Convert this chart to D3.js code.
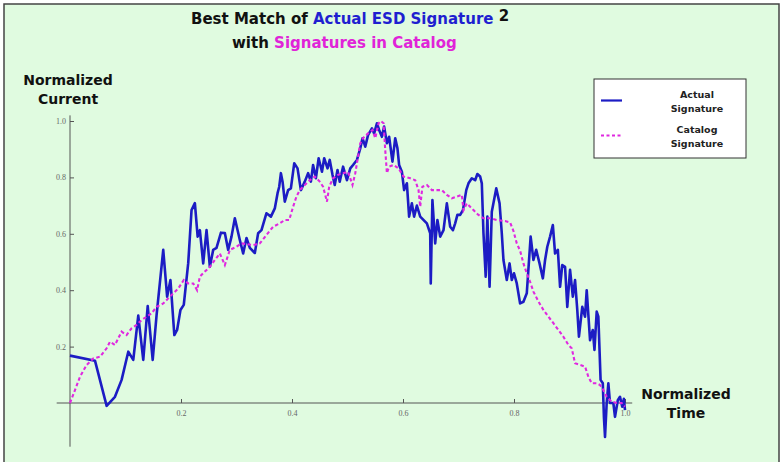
<!DOCTYPE html>
<html>
<head>
<meta charset="utf-8">
<script src="https://cdn.jsdelivr.net/npm/d3@7"></script>
<style>
  html, body { margin: 0; padding: 0; background: #fff; }
  svg { display: block; }
</style>
</head>
<body>
<div id="chart"></div>
<script>
// values (normalized time, normalized current)
const actualT = [0, 0.045, 0.066, 0.081, 0.093, 0.105, 0.114, 0.123, 0.132, 0.140, 0.149, 0.156, 0.168, 0.175, 0.181, 0.188, 0.193, 0.199, 0.205, 0.213, 0.219, 0.225, 0.230, 0.234, 0.240, 0.246, 0.252, 0.258, 0.264, 0.272, 0.279, 0.285, 0.291, 0.297, 0.306, 0.312, 0.318, 0.324, 0.333, 0.339, 0.345, 0.354, 0.362, 0.369, 0.374, 0.377, 0.380, 0.383, 0.387, 0.393, 0.398, 0.404, 0.410, 0.416, 0.423, 0.429, 0.434, 0.438, 0.443, 0.448, 0.454, 0.458, 0.464, 0.468, 0.473, 0.477, 0.482, 0.486, 0.492, 0.499, 0.505, 0.510, 0.517, 0.523, 0.527, 0.532, 0.537, 0.544, 0.548, 0.553, 0.557, 0.562, 0.566, 0.571, 0.575, 0.581, 0.586, 0.590, 0.593, 0.598, 0.602, 0.607, 0.611, 0.616, 0.620, 0.625, 0.631, 0.643, 0.649, 0.650, 0.653, 0.658, 0.662, 0.667, 0.673, 0.679, 0.685, 0.690, 0.694, 0.698, 0.703, 0.708, 0.714, 0.718, 0.724, 0.730, 0.734, 0.739, 0.742, 0.745, 0.749, 0.752, 0.756, 0.760, 0.768, 0.774, 0.778, 0.781, 0.787, 0.792, 0.796, 0.800, 0.805, 0.811, 0.817, 0.823, 0.830, 0.835, 0.840, 0.846, 0.852, 0.856, 0.860, 0.865, 0.870, 0.874, 0.879, 0.883, 0.887, 0.892, 0.896, 0.901, 0.906, 0.910, 0.914, 0.917, 0.923, 0.928, 0.931, 0.937, 0.942, 0.945, 0.949, 0.952, 0.956, 0.960, 0.962, 0.964, 0.967, 0.970, 0.973, 0.979, 0.982, 0.987, 0.991, 0.995, 0.998, 1.000];
const actualV = [0.168, 0.150, -0.010, 0.022, 0.082, 0.182, 0.153, 0.310, 0.153, 0.344, 0.153, 0.312, 0.543, 0.377, 0.436, 0.241, 0.259, 0.330, 0.348, 0.496, 0.684, 0.709, 0.590, 0.613, 0.495, 0.613, 0.483, 0.543, 0.550, 0.604, 0.603, 0.543, 0.590, 0.655, 0.578, 0.530, 0.585, 0.550, 0.532, 0.602, 0.613, 0.673, 0.661, 0.690, 0.744, 0.767, 0.815, 0.785, 0.714, 0.755, 0.761, 0.850, 0.832, 0.755, 0.785, 0.815, 0.785, 0.844, 0.797, 0.868, 0.820, 0.868, 0.832, 0.862, 0.809, 0.773, 0.826, 0.785, 0.838, 0.790, 0.832, 0.844, 0.862, 0.903, 0.939, 0.909, 0.950, 0.974, 0.956, 0.992, 0.968, 0.944, 0.980, 0.921, 0.944, 0.856, 0.939, 0.903, 0.844, 0.820, 0.755, 0.779, 0.661, 0.708, 0.661, 0.700, 0.661, 0.637, 0.602, 0.424, 0.720, 0.566, 0.649, 0.590, 0.613, 0.708, 0.625, 0.613, 0.637, 0.667, 0.667, 0.684, 0.755, 0.779, 0.797, 0.790, 0.812, 0.803, 0.779, 0.602, 0.448, 0.661, 0.412, 0.678, 0.761, 0.708, 0.602, 0.507, 0.436, 0.495, 0.436, 0.460, 0.424, 0.353, 0.359, 0.389, 0.590, 0.507, 0.543, 0.495, 0.442, 0.507, 0.554, 0.590, 0.631, 0.530, 0.543, 0.412, 0.489, 0.483, 0.341, 0.472, 0.377, 0.436, 0.330, 0.235, 0.341, 0.306, 0.400, 0.223, 0.259, 0.188, 0.324, 0.306, 0.082, 0.070, -0.049, -0.120, 0.000, 0.070, 0.000, 0.000, -0.049, 0.010, 0.022, -0.013, 0.015, -0.025];

const catalogT = [0, 0.009, 0.018, 0.030, 0.042, 0.054, 0.066, 0.072, 0.081, 0.093, 0.102, 0.111, 0.120, 0.129, 0.138, 0.147, 0.156, 0.168, 0.177, 0.186, 0.195, 0.205, 0.213, 0.222, 0.229, 0.234, 0.243, 0.252, 0.261, 0.270, 0.279, 0.288, 0.300, 0.309, 0.330, 0.342, 0.354, 0.366, 0.378, 0.387, 0.395, 0.402, 0.408, 0.414, 0.423, 0.432, 0.441, 0.450, 0.456, 0.463, 0.467, 0.474, 0.483, 0.492, 0.501, 0.509, 0.514, 0.518, 0.523, 0.528, 0.537, 0.545, 0.550, 0.556, 0.560, 0.565, 0.568, 0.571, 0.575, 0.583, 0.592, 0.601, 0.613, 0.622, 0.628, 0.631, 0.635, 0.643, 0.652, 0.670, 0.679, 0.688, 0.706, 0.709, 0.715, 0.727, 0.736, 0.745, 0.757, 0.769, 0.784, 0.793, 0.799, 0.805, 0.811, 0.817, 0.823, 0.829, 0.835, 0.844, 0.853, 0.862, 0.871, 0.880, 0.889, 0.898, 0.904, 0.910, 0.919, 0.928, 0.934, 0.940, 0.949, 0.955, 0.961, 0.967, 0.976, 0.985, 0.994, 1.000];
const catalogV = [0, 0.046, 0.093, 0.135, 0.158, 0.164, 0.194, 0.217, 0.206, 0.253, 0.241, 0.265, 0.277, 0.294, 0.306, 0.318, 0.341, 0.353, 0.371, 0.389, 0.406, 0.436, 0.424, 0.424, 0.400, 0.448, 0.466, 0.483, 0.507, 0.530, 0.489, 0.543, 0.554, 0.566, 0.560, 0.566, 0.596, 0.625, 0.637, 0.649, 0.649, 0.696, 0.732, 0.755, 0.773, 0.790, 0.803, 0.785, 0.767, 0.714, 0.767, 0.797, 0.809, 0.815, 0.820, 0.773, 0.815, 0.862, 0.921, 0.939, 0.956, 0.968, 0.939, 0.992, 1.000, 0.992, 0.897, 0.815, 0.838, 0.844, 0.832, 0.803, 0.797, 0.790, 0.755, 0.696, 0.767, 0.773, 0.755, 0.755, 0.738, 0.726, 0.738, 0.684, 0.708, 0.684, 0.667, 0.655, 0.655, 0.649, 0.645, 0.640, 0.610, 0.566, 0.540, 0.495, 0.460, 0.430, 0.395, 0.360, 0.330, 0.306, 0.283, 0.259, 0.235, 0.206, 0.194, 0.141, 0.135, 0.129, 0.093, 0.070, 0.070, 0.064, 0.046, 0.022, 0.005, 0, 0, -0.013];

const xMajor = [0.2, 0.4, 0.6, 0.8, 1.0];
const yMajor = [0.2, 0.4, 0.6, 0.8, 1.0];
const xMinor = d3.range(1, 21).map(i => i * 0.05);
const yMinor = [-0.15, -0.1, -0.05].concat(d3.range(1, 21).map(i => i * 0.05));

const W = 782, H = 462;
const blue = "#1c1cc4";
const magenta = "#e028e0";

const svg = d3.select("#chart").append("svg")
  .attr("width", W).attr("height", H);

svg.append("rect")
  .attr("x", 4).attr("y", 4).attr("width", 775).attr("height", 470)
  .attr("fill", "#e0fbe0").attr("stroke", "#444").attr("stroke-width", 1.5);

const x = d3.scaleLinear().domain([0, 1]).range([70, 625]);
const y = d3.scaleLinear().domain([0, 1]).range([403, 121]);

// axes lines
svg.append("line")
  .attr("x1", x(-0.024)).attr("x2", x(1.013))
  .attr("y1", y(0)).attr("y2", y(0))
  .attr("stroke", "#555").attr("stroke-width", 1);
svg.append("line")
  .attr("x1", x(0)).attr("x2", x(0))
  .attr("y1", y(1.02)).attr("y2", y(-0.155))
  .attr("stroke", "#555").attr("stroke-width", 1);

const tickFont = "'Liberation Serif', 'DejaVu Serif', serif";

// x ticks
const gx = svg.append("g").attr("transform", `translate(0,${y(0)})`);
gx.call(d3.axisBottom(x).tickValues(xMinor).tickSize(-2.5).tickFormat(""));
gx.call(d3.axisBottom(x).tickValues(xMajor).tickSize(-4).tickPadding(7).tickFormat(d3.format(".1f")));
gx.select(".domain").remove();
gx.selectAll(".tick line").attr("stroke", "#555");
gx.selectAll(".tick text").attr("fill", "#666").attr("font-size", 8).attr("font-family", tickFont);

// y ticks
const gy = svg.append("g").attr("transform", `translate(${x(0)},0)`);
gy.call(d3.axisLeft(y).tickValues(yMinor).tickSize(-2.5).tickFormat(""));
gy.call(d3.axisLeft(y).tickValues(yMajor).tickSize(-4).tickPadding(4).tickFormat(d3.format(".1f")));
gy.select(".domain").remove();
gy.selectAll(".tick line").attr("stroke", "#555");
gy.selectAll(".tick text").attr("fill", "#666").attr("font-size", 8).attr("font-family", tickFont);

// series
const line = d3.line().x(d => x(d[0])).y(d => y(d[1]));
const catalog = catalogT.map((t, i) => [t, catalogV[i]]);
const actual = actualT.map((t, i) => [t, actualV[i]]);

svg.append("path")
  .attr("d", line(actual))
  .attr("fill", "none").attr("stroke", blue)
  .attr("stroke-width", 2.6).attr("stroke-linejoin", "round");

svg.append("path")
  .attr("d", line(catalog))
  .attr("fill", "none").attr("stroke", magenta)
  .attr("stroke-width", 2.1).attr("stroke-dasharray", "3.5,2.5");

// titles
const boldFont = "'DejaVu Sans', Verdana, sans-serif";
const t1 = svg.append("text").attr("x", 191).attr("y", 24)
  .attr("font-family", boldFont).attr("font-weight", "bold").attr("font-size", 15);
t1.append("tspan").attr("fill", "#111").text("Best Match of ");
t1.append("tspan").attr("fill", "#1f1fd0").text("Actual ESD Signature");
t1.append("tspan").attr("fill", "#111").attr("font-size", 15).attr("dy", -3).text(" 2");

const t2 = svg.append("text").attr("x", 232).attr("y", 48)
  .attr("font-family", boldFont).attr("font-weight", "bold").attr("font-size", 15);
t2.append("tspan").attr("fill", "#111").text("with ");
t2.append("tspan").attr("fill", "#e024d8").text("Signatures in Catalog");

// axis titles
const axisTitle = (cx, cy, lines) => {
  svg.append("g").selectAll("text").data(lines).join("text")
    .attr("x", cx).attr("y", (d, i) => cy + i * 19)
    .attr("text-anchor", "middle")
    .attr("font-family", boldFont).attr("font-weight", "bold").attr("font-size", 14)
    .attr("fill", "#111")
    .text(d => d);
};
axisTitle(68, 85, ["Normalized", "Current"]);
axisTitle(686, 399, ["Normalized", "Time"]);

// legend
const lg = svg.append("g");
lg.append("rect").attr("x", 594).attr("y", 79).attr("width", 152).attr("height", 79)
  .attr("fill", "#fff").attr("stroke", "#333").attr("stroke-width", 1);
lg.append("line").attr("x1", 601).attr("x2", 622).attr("y1", 100.5).attr("y2", 100.5)
  .attr("stroke", blue).attr("stroke-width", 2.2);
lg.append("line").attr("x1", 601).attr("x2", 622).attr("y1", 135.5).attr("y2", 135.5)
  .attr("stroke", magenta).attr("stroke-width", 2).attr("stroke-dasharray", "3,2.5");
const legendLabels = [["Actual", "Signature"], ["Catalog", "Signature"]];
legendLabels.forEach((lines, k) => {
  lg.append("g").selectAll("text").data(lines).join("text")
    .attr("x", 697).attr("y", (d, i) => 98 + k * 35 + i * 13.5)
    .attr("text-anchor", "middle")
    .attr("font-family", boldFont).attr("font-weight", "bold").attr("font-size", 9.5)
    .attr("fill", "#222")
    .text(d => d);
});
</script>
</body>
</html>
